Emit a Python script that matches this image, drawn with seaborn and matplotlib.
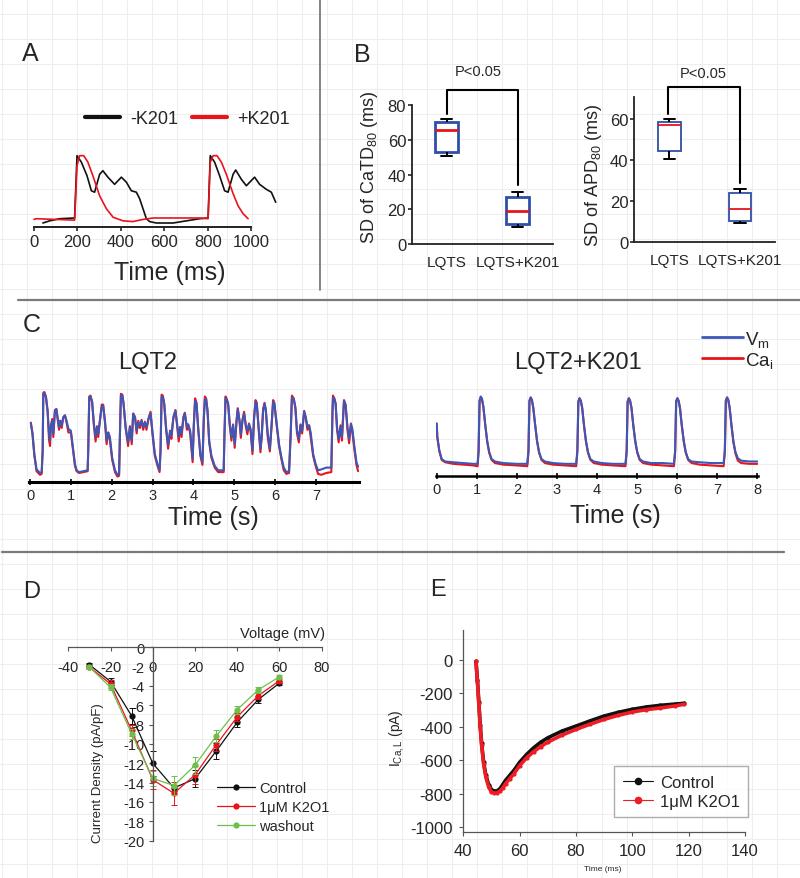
import numpy as np
import pandas as pd
import matplotlib
matplotlib.use("Agg")
import matplotlib.pyplot as plt
from matplotlib.lines import Line2D
import seaborn as sns

# ---------------- data ----------------
# A: action potentials (ms, normalised)
a_ctrl_t = [41, 72, 118, 187, 198, 218, 244, 264, 279, 302, 317, 340, 371, 402, 425, 448, 471, 486,
            517, 532, 563, 640, 701, 762, 801, 811, 831, 854, 877, 893, 916, 928, 954, 977, 1015,
            1038, 1069, 1092, 1112]
a_ctrl_v = [0.06, 0.09, 0.12, 0.13, 1.0, 0.91, 0.72, 0.51, 0.49, 0.74, 0.79, 0.70, 0.60, 0.70, 0.63,
            0.51, 0.49, 0.40, 0.12, 0.08, 0.06, 0.06, 0.09, 0.12, 0.13, 1.0, 0.91, 0.72, 0.51, 0.49,
            0.74, 0.80, 0.67, 0.58, 0.70, 0.60, 0.53, 0.49, 0.35]
a_k201_t = [0, 11, 187, 198, 210, 229, 248, 271, 302, 333, 364, 410, 455, 502, 548, 762, 801, 811,
            824, 842, 862, 885, 916, 939, 962, 985]
a_k201_v = [0.11, 0.12, 0.10, 0.86, 1.0, 1.0, 0.91, 0.72, 0.44, 0.26, 0.14, 0.09, 0.08, 0.11, 0.13,
            0.13, 0.12, 0.91, 1.0, 1.0, 0.91, 0.74, 0.47, 0.30, 0.19, 0.12]

# B: box plot summaries (whisker low, Q1, median, Q3, whisker high)
b_groups = ["LQTS", "LQTS+K201"]
catd_lqts = [50.8, 52.8, 65.8, 70.4, 71.7]
catd_k201 = [10.0, 11.5, 19.2, 27.2, 30.1]
apd_lqts = [40.4, 44.3, 57.2, 58.7, 60.0]
apd_k201 = [9.1, 9.9, 16.0, 23.8, 25.8]
catd_bracket = [74.8, 88.8, 88.8, 34.0]
apd_bracket = [62.5, 75.8, 75.8, 28.5]

# C left: LQT2 optical traces (s, normalised)
lqt2_t = [0.02, 0.06, 0.105, 0.16, 0.245, 0.285, 0.31, 0.325, 0.35, 0.39,
          0.43, 0.465, 0.49, 0.51, 0.545, 0.57, 0.61, 0.645, 0.675, 0.71,
          0.74, 0.775, 0.815, 0.855, 0.895, 0.94, 1.0, 1.06, 1.10, 1.14,
          1.20, 1.30, 1.41, 1.425, 1.45, 1.48, 1.52, 1.565, 1.605, 1.64,
          1.67, 1.71, 1.755, 1.79, 1.835, 1.875, 1.915, 1.955, 2.01, 2.08,
          2.14, 2.18, 2.21, 2.225, 2.26, 2.29, 2.34, 2.40, 2.445, 2.49,
          2.525, 2.57, 2.61, 2.65, 2.69, 2.73, 2.77, 2.81, 2.85, 2.91,
          2.95, 3.0, 3.055, 3.12, 3.17, 3.195, 3.22, 3.25, 3.285, 3.33,
          3.38, 3.43, 3.46, 3.51, 3.56, 3.61, 3.64, 3.675, 3.71, 3.755,
          3.79, 3.84, 3.87, 3.92, 3.98, 4.01, 4.04, 4.075, 4.115, 4.17,
          4.22, 4.255, 4.28, 4.31, 4.345, 4.385, 4.44, 4.52, 4.605, 4.685,
          4.74, 4.76, 4.785, 4.815, 4.85, 4.89, 4.93, 4.97, 5.01, 5.055,
          5.085, 5.13, 5.16, 5.2, 5.24, 5.28, 5.32, 5.36, 5.40, 5.445,
          5.485, 5.52, 5.55, 5.59, 5.64, 5.67, 5.705, 5.74, 5.77, 5.82,
          5.87, 5.91, 5.95, 5.98, 6.03, 6.095, 6.155, 6.21, 6.275, 6.34,
          6.38, 6.41, 6.455, 6.495, 6.535, 6.58, 6.62, 6.66, 6.71, 6.75,
          6.79, 6.83, 6.87, 6.93, 6.99, 7.05, 7.13, 7.25, 7.375, 7.40,
          7.415, 7.45, 7.48, 7.515, 7.555, 7.60, 7.635, 7.685, 7.725, 7.77,
          7.81, 7.855, 7.89, 7.94, 7.99, 8.03]
lqt2_vm = [0.65, 0.54, 0.31, 0.14, 0.10, 0.11, 0.35, 0.98, 0.99, 0.94,
           0.79, 0.54, 0.46, 0.61, 0.68, 0.54, 0.79, 0.81, 0.72, 0.61,
           0.68, 0.63, 0.72, 0.74, 0.68, 0.59, 0.57, 0.35, 0.20, 0.13,
           0.11, 0.12, 0.13, 0.35, 0.94, 0.95, 0.89, 0.64, 0.50, 0.61,
           0.54, 0.68, 0.83, 0.85, 0.68, 0.46, 0.55, 0.50, 0.27, 0.13,
           0.08, 0.09, 0.72, 0.96, 0.96, 0.87, 0.61, 0.44, 0.61, 0.46,
           0.76, 0.72, 0.57, 0.66, 0.63, 0.68, 0.61, 0.66, 0.61, 0.72,
           0.76, 0.54, 0.31, 0.20, 0.13, 0.35, 0.94, 0.95, 0.87, 0.61,
           0.41, 0.57, 0.52, 0.72, 0.79, 0.61, 0.50, 0.61, 0.54, 0.72,
           0.76, 0.61, 0.64, 0.57, 0.26, 0.64, 0.90, 0.87, 0.61, 0.31,
           0.22, 0.72, 0.92, 0.92, 0.79, 0.46, 0.29, 0.18, 0.13, 0.13,
           0.13, 0.54, 0.93, 0.92, 0.87, 0.64, 0.50, 0.63, 0.42, 0.68,
           0.81, 0.68, 0.53, 0.68, 0.76, 0.64, 0.57, 0.64, 0.59, 0.35,
           0.72, 0.89, 0.87, 0.64, 0.37, 0.50, 0.79, 0.87, 0.81, 0.53,
           0.37, 0.61, 0.89, 0.87, 0.68, 0.42, 0.27, 0.16, 0.11, 0.12,
           0.53, 0.94, 0.92, 0.83, 0.57, 0.48, 0.63, 0.57, 0.78, 0.72,
           0.61, 0.63, 0.55, 0.31, 0.20, 0.13, 0.14, 0.16, 0.16, 0.72,
           0.94, 0.92, 0.87, 0.61, 0.48, 0.61, 0.50, 0.90, 0.85, 0.61,
           0.48, 0.64, 0.59, 0.39, 0.22, 0.17]
lqt2_ca = [0.66, 0.54, 0.30, 0.12, 0.08, 0.09, 0.35, 0.99, 1.00, 0.95,
           0.79, 0.47, 0.40, 0.63, 0.70, 0.50, 0.80, 0.81, 0.70, 0.58,
           0.68, 0.60, 0.72, 0.74, 0.66, 0.55, 0.55, 0.33, 0.18, 0.12,
           0.10, 0.11, 0.12, 0.35, 0.95, 0.96, 0.89, 0.62, 0.45, 0.62,
           0.50, 0.68, 0.86, 0.86, 0.66, 0.42, 0.55, 0.47, 0.25, 0.11,
           0.06, 0.07, 0.72, 0.98, 0.97, 0.87, 0.60, 0.40, 0.62, 0.42,
           0.76, 0.72, 0.54, 0.68, 0.60, 0.69, 0.58, 0.67, 0.58, 0.72,
           0.78, 0.52, 0.29, 0.18, 0.11, 0.35, 0.97, 0.96, 0.87, 0.58,
           0.37, 0.57, 0.48, 0.72, 0.80, 0.58, 0.45, 0.61, 0.50, 0.72,
           0.77, 0.58, 0.64, 0.54, 0.22, 0.64, 0.93, 0.88, 0.60, 0.29,
           0.19, 0.72, 0.95, 0.93, 0.79, 0.44, 0.27, 0.16, 0.11, 0.11,
           0.11, 0.54, 0.95, 0.92, 0.86, 0.62, 0.46, 0.64, 0.38, 0.68,
           0.82, 0.66, 0.49, 0.69, 0.78, 0.62, 0.53, 0.65, 0.56, 0.31,
           0.72, 0.91, 0.88, 0.62, 0.33, 0.50, 0.81, 0.88, 0.80, 0.49,
           0.34, 0.61, 0.91, 0.88, 0.66, 0.40, 0.25, 0.13, 0.09, 0.10,
           0.53, 0.96, 0.93, 0.82, 0.54, 0.44, 0.64, 0.54, 0.79, 0.71,
           0.58, 0.63, 0.50, 0.29, 0.18, 0.09, 0.08, 0.10, 0.11, 0.72,
           0.96, 0.93, 0.87, 0.58, 0.44, 0.63, 0.46, 0.91, 0.86, 0.58,
           0.43, 0.65, 0.55, 0.36, 0.19, 0.12]

# C right: LQT2+K201 optical traces
k201_t = [0.0, 0.015, 0.065, 0.125, 0.21, 0.415, 0.665, 0.91, 1.02,
          1.045, 1.07, 1.10, 1.13, 1.165, 1.21, 1.26, 1.31, 1.37, 1.455, 1.66, 2.0, 2.26,
          2.29, 2.315, 2.345, 2.375, 2.41, 2.455, 2.505, 2.555, 2.615, 2.70, 2.90, 3.2, 3.48,
          3.51, 3.535, 3.565, 3.595, 3.63, 3.675, 3.725, 3.775, 3.835, 3.92, 4.12, 4.4, 4.71,
          4.74, 4.765, 4.795, 4.825, 4.86, 4.905, 4.955, 5.005, 5.065, 5.15, 5.35, 5.65, 5.92,
          5.95, 5.975, 6.005, 6.035, 6.07, 6.115, 6.165, 6.215, 6.275, 6.36, 6.56, 6.85, 7.16,
          7.19, 7.215, 7.245, 7.275, 7.31, 7.355, 7.405, 7.455, 7.515, 7.60, 7.80, 8.0]
k201_vm = [0.66, 0.49, 0.32, 0.21, 0.18, 0.17, 0.16, 0.15, 0.15,
           0.32, 0.95, 1.0, 0.97, 0.87, 0.65, 0.44, 0.30, 0.21, 0.18, 0.16, 0.15, 0.15,
           0.32, 0.95, 0.99, 0.96, 0.86, 0.65, 0.44, 0.30, 0.21, 0.18, 0.16, 0.15, 0.15,
           0.32, 0.94, 0.98, 0.95, 0.86, 0.64, 0.44, 0.30, 0.21, 0.18, 0.16, 0.15, 0.15,
           0.32, 0.94, 0.98, 0.95, 0.86, 0.64, 0.44, 0.30, 0.21, 0.18, 0.16, 0.16, 0.15,
           0.32, 0.94, 0.98, 0.95, 0.86, 0.64, 0.44, 0.30, 0.21, 0.18, 0.17, 0.16, 0.16,
           0.32, 0.95, 0.99, 0.96, 0.86, 0.64, 0.43, 0.30, 0.22, 0.19, 0.18, 0.18]
k201_ca = [0.66, 0.49, 0.31, 0.20, 0.17, 0.15, 0.14, 0.13, 0.12,
           0.30, 0.95, 1.0, 0.97, 0.87, 0.65, 0.43, 0.29, 0.20, 0.16, 0.14, 0.13, 0.12,
           0.30, 0.95, 0.99, 0.96, 0.86, 0.65, 0.43, 0.29, 0.20, 0.16, 0.14, 0.13, 0.12,
           0.30, 0.94, 0.98, 0.95, 0.86, 0.64, 0.43, 0.29, 0.20, 0.16, 0.14, 0.13, 0.12,
           0.30, 0.94, 0.98, 0.95, 0.86, 0.64, 0.43, 0.29, 0.20, 0.16, 0.14, 0.13, 0.12,
           0.30, 0.94, 0.98, 0.95, 0.86, 0.64, 0.43, 0.29, 0.20, 0.16, 0.14, 0.13, 0.12,
           0.30, 0.95, 0.99, 0.96, 0.86, 0.64, 0.42, 0.28, 0.19, 0.16, 0.15, 0.15]

# D: I-V relation
d_voltage = [-30, -20, -10, 0, 10, 20, 30, 40, 50, 60]
d_ctrl = [-1.8, -3.55, -7.1, -12.0, -14.55, -13.6, -10.75, -7.75, -5.4, -3.7]
d_ctrl_err = [0.2, 0.4, 0.8, 1.3, 0.3, 0.9, 0.8, 0.5, 0.4, 0.2]
d_k201 = [-2.05, -3.8, -8.6, -13.7, -15.1, -13.2, -10.1, -7.2, -5.0, -3.45]
d_k201_err = [0.2, 0.4, 0.6, 1.0, 1.2, 0.9, 0.6, 0.4, 0.3, 0.2]
d_wash = [-2.05, -4.15, -8.95, -13.55, -14.3, -12.2, -9.2, -6.45, -4.4, -3.05]
d_wash_err = [0.2, 0.3, 0.5, 0.8, 1.0, 0.9, 0.6, 0.4, 0.3, 0.2]

# E: I_CaL traces
e_time = [44.5, 45.0, 45.5, 46.0, 46.5, 47.2, 48.0, 49.0, 50.0, 51.0, 52.0, 53.0, 54.0, 55.0,
          56.5, 58.0, 60.0, 62.5, 65.0, 67.5, 70.0, 75.0, 80.0, 85.0, 90.0, 95.0, 100.0,
          105.0, 110.0, 115.0, 118.5]
e_ctrl = [-10, -120, -250, -390, -500, -610, -690, -745, -775, -785, -783, -770, -745, -720,
          -690, -660, -612, -565, -525, -492, -466, -426, -396, -365, -336, -314, -296,
          -282, -272, -265, -260]
e_k201 = [-10, -125, -260, -400, -510, -620, -700, -760, -790, -796, -794, -785, -765, -740,
          -710, -680, -632, -585, -548, -518, -492, -450, -416, -385, -356, -332, -312,
          -298, -288, -276, -266]

# ---------------- style ----------------
sns.set_style("ticks")
plt.rcParams["font.family"] = ["Liberation Sans", "DejaVu Sans"]
plt.rcParams["mathtext.fontset"] = "custom"
plt.rcParams["mathtext.rm"] = "Liberation Sans"
plt.rcParams["mathtext.it"] = "Liberation Sans:italic"
plt.rcParams["axes.unicode_minus"] = False

RED = "#e8141c"
BLUE = "#3d57b7"
W, H = 800, 879
fig = plt.figure(figsize=(W / 100, H / 100), dpi=100)
fig.patch.set_facecolor("white")


def add_ax(x0, y0, x1, y1):
    ax = fig.add_axes([x0 / W, 1 - y1 / H, (x1 - x0) / W, (y1 - y0) / H])
    ax.set_facecolor("none")
    return ax


def fpos(x, y):
    return x / W, 1 - y / H


# faint graph-paper background and panel separators
bg = fig.add_axes([0, 0, 1, 1], zorder=-10)
bg.set_xlim(0, W)
bg.set_ylim(H, 0)
bg.axis("off")
for gx in np.arange(1.5, W, 25):
    bg.axvline(gx, color="#eeeeee", lw=0.8)
for gy in np.arange(15, H, 25):
    bg.axhline(gy, color="#eeeeee", lw=0.8)
bg.plot([319.5, 319.5], [0, 291], color="#6e6e6e", lw=1.2)
bg.plot([18, 800], [300.5, 300.5], color="#7a7a7a", lw=1.6)
bg.plot([2, 784], [552.7, 552.7], color="#7a7a7a", lw=1.6)

# ---------------- A ----------------
axA = add_ax(31.8, 131.6, 279.6, 228.3)
sns.lineplot(x=a_ctrl_t, y=a_ctrl_v, ax=axA, color="#111111", lw=1.2, label="-K201",
             estimator=None, sort=False)
sns.lineplot(x=a_k201_t, y=a_k201_v, ax=axA, color=RED, lw=1.2, label="+K201",
             estimator=None, sort=False)
axA.set_xlim(-10, 1130)
axA.set_ylim(0, 1.35)
for s in ["top", "right", "left"]:
    axA.spines[s].set_visible(False)
axA.spines["bottom"].set_bounds(0, 1000)
axA.spines["bottom"].set_linewidth(1.4)
axA.spines["bottom"].set_color("#222222")
axA.set_xticks([0, 200, 400, 600, 800, 1000])
axA.set_yticks([])
axA.tick_params(axis="x", direction="out", length=3, width=1.2, labelsize=12, pad=2)
axA.set_xlabel("Time (ms)", fontsize=18, va="center")
axA.xaxis.set_label_coords(*fpos(170, 273), transform=fig.transFigure)
axA.set_ylabel("")
legA = axA.legend(loc="center left", bbox_to_anchor=fpos(85, 120), bbox_transform=fig.transFigure,
                  ncol=2, frameon=False, fontsize=13, handlelength=1.95, handletextpad=0.55,
                  columnspacing=0.75, borderpad=0, borderaxespad=0)
for ln in legA.get_lines():
    ln.set_linewidth(3)

# ---------------- B ----------------
box_kw = dict(width=0.32, color="white", linecolor="black", showfliers=False, order=b_groups,
              whiskerprops=dict(color="black", linewidth=1.4),
              capprops=dict(color="black", linewidth=1.4))


def box_panel(ax, vals_a, vals_b, box_lw):
    df = pd.DataFrame({"group": [b_groups[0]] * len(vals_a) + [b_groups[1]] * len(vals_b),
                       "value": vals_a + vals_b})
    sns.boxplot(data=df, x="group", y="value", ax=ax,
                boxprops=dict(edgecolor="#2f4ea8", linewidth=box_lw),
                medianprops=dict(color=RED, linewidth=box_lw), **box_kw)
    for s in ["top", "right"]:
        ax.spines[s].set_visible(False)
    for s in ["left", "bottom"]:
        ax.spines[s].set_linewidth(1.3)
        ax.spines[s].set_color("#222222")
    ax.tick_params(axis="x", length=0, pad=8, labelsize=11)
    ax.tick_params(axis="y", direction="out", length=3, width=1.2, labelsize=12, pad=1)
    ax.set_xlabel("")


axB1 = add_ax(411.7, 62.6, 553.3, 245)
box_panel(axB1, catd_lqts, catd_k201, 2.0)
axB1.set_xlim(-0.49, 1.5)
axB1.set_ylim(0, 105)
axB1.set_yticks([0, 20, 40, 60, 80])
axB1.spines["left"].set_bounds(0, 80)
axB1.plot([0, 0, 1, 1], catd_bracket, color="black", lw=1.5, clip_on=False)
axB1.text(0.44, 99.8, "P<0.05", ha="center", va="center", fontsize=10.5)
axB1.set_ylabel("SD of CaTD$_{80}$ (ms)", fontsize=13, va="center")
axB1.yaxis.set_label_coords(*fpos(369, 167), transform=fig.transFigure)

axB2 = add_ax(634, 62.7, 775, 242.7)
box_panel(axB2, apd_lqts, apd_k201, 1.3)
axB2.set_xlim(-0.5, 1.495)
axB2.set_ylim(0, 88)
axB2.set_yticks([0, 20, 40, 60])
axB2.spines["left"].set_bounds(0, 70.6)
axB2.plot([-0.02, -0.02, 1, 1], apd_bracket, color="black", lw=1.5, clip_on=False)
axB2.text(0.48, 82.5, "P<0.05", ha="center", va="center", fontsize=10.5)
axB2.set_ylabel("SD of APD$_{80}$ (ms)", fontsize=13, va="center")
axB2.yaxis.set_label_coords(*fpos(593, 175), transform=fig.transFigure)


# ---------------- C ----------------
def trace_panel(ax, t, vm, ca, xticks, spine_lw):
    sns.lineplot(x=t, y=ca, ax=ax, color=RED, lw=1.5, label="Ca$_\\mathrm{i}$",
                 estimator=None, sort=False)
    sns.lineplot(x=t, y=vm, ax=ax, color=BLUE, lw=1.5, label="V$_\\mathrm{m}$",
                 estimator=None, sort=False)
    for s in ["top", "right", "left"]:
        ax.spines[s].set_visible(False)
    ax.spines["bottom"].set_linewidth(spine_lw)
    ax.spines["bottom"].set_color("black")
    ax.set_ylim(0, 1.1)
    ax.set_yticks([])
    ax.set_xticks(xticks)
    ax.tick_params(axis="x", direction="inout", length=5, width=1.4, labelsize=10.5, pad=2)
    ax.set_ylabel("")


axC1 = add_ax(29.2, 384, 358.5, 483)
trace_panel(axC1, lqt2_t, lqt2_vm, lqt2_ca, list(range(8)), 2.2)
axC1.set_xlim(-0.02, 8.04)
axC1.legend_.remove()
axC1.set_xlabel("Time (s)", fontsize=18, va="center")
axC1.xaxis.set_label_coords(*fpos(213, 518), transform=fig.transFigure)

axC2 = add_ax(435.9, 389.8, 758.1, 476.7)
trace_panel(axC2, k201_t, k201_vm, k201_ca, list(range(9)), 1.8)
axC2.set_xlim(-0.02, 8.02)
axC2.set_xlabel("Time (s)", fontsize=18, va="center")
axC2.xaxis.set_label_coords(*fpos(615, 516), transform=fig.transFigure)
hC, lC = axC2.get_legend_handles_labels()
legC = axC2.legend(hC[::-1], lC[::-1], loc="upper left", bbox_to_anchor=fpos(701.7, 330),
                   bbox_transform=fig.transFigure, frameon=False, fontsize=13.5,
                   handlelength=2.2, handletextpad=0.1, labelspacing=0.05,
                   borderpad=0, borderaxespad=0)
for ln in legC.get_lines():
    ln.set_linewidth(2)

fig.text(*fpos(148, 363), "LQT2", fontsize=17, ha="center", va="center")
fig.text(*fpos(578, 363), "LQT2+K201", fontsize=17, ha="center", va="center")

# ---------------- D ----------------
axD = add_ax(66.2, 638.6, 323.8, 846.5)
d_series = [("Control", d_ctrl, d_ctrl_err, "#111111"),
            ("1\u03bcM K2O1", d_k201, d_k201_err, RED),
            ("washout", d_wash, d_wash_err, "#6cc04a")]
for name, vals, err, col in d_series:
    axD.errorbar(d_voltage, vals, yerr=err, fmt="none", ecolor=col, elinewidth=0.7,
                 capsize=2.5, capthick=0.7)
    sns.lineplot(x=d_voltage, y=vals, ax=axD, color=col, lw=0.9, marker="o", markersize=4.5,
                 markeredgewidth=0, label=name, estimator=None, sort=False)
axD.set_xlim(-41, 81)
axD.set_ylim(-20.5, 1.0)
axD.spines["top"].set_visible(False)
axD.spines["right"].set_visible(False)
axD.spines["left"].set_position(("data", 0))
axD.spines["bottom"].set_position(("data", 0))
axD.spines["left"].set_bounds(-20, 0)
axD.spines["bottom"].set_bounds(-40, 80)
for s in ["left", "bottom"]:
    axD.spines[s].set_linewidth(0.9)
    axD.spines[s].set_color("#555555")
axD.set_xticks([-40, -20, 0, 20, 40, 60, 80])
axD.set_yticks(list(range(0, -21, -2)))
axD.tick_params(axis="x", direction="out", length=3, width=0.8, labelsize=10.5, pad=6.5,
                color="#555555")
axD.tick_params(axis="y", direction="out", length=3, width=0.8, labelsize=10.5, pad=3,
                color="#555555")
axD.set_xlabel("Voltage (mV)", fontsize=10.5, va="center")
axD.xaxis.set_label_coords(*fpos(283, 634), transform=fig.transFigure)
axD.set_ylabel("Current Density (pA/pF)", fontsize=9.5, va="center")
axD.yaxis.set_label_coords(*fpos(98, 773), transform=fig.transFigure)
axD.legend(loc="upper left", bbox_to_anchor=fpos(217, 782), bbox_transform=fig.transFigure,
           frameon=False, fontsize=10.5, handlelength=2.6, handletextpad=0.3,
           labelspacing=0.35, borderpad=0, borderaxespad=0)

# ---------------- E ----------------
axE = add_ax(463.3, 631.4, 745, 833.3)
sns.lineplot(x=e_time, y=e_ctrl, ax=axE, color="#111111", lw=2.6, marker="o", markersize=3,
             markeredgewidth=0, estimator=None, sort=False)
sns.lineplot(x=e_time, y=e_k201, ax=axE, color="#ee1c24", lw=2.6, marker="o", markersize=3,
             markeredgewidth=0, estimator=None, sort=False)
axE.set_xlim(40, 140)
axE.set_ylim(-1030, 175)
axE.spines["top"].set_visible(False)
axE.spines["right"].set_visible(False)
for s in ["left", "bottom"]:
    axE.spines[s].set_linewidth(0.9)
    axE.spines[s].set_color("#555555")
axE.set_xticks([40, 60, 80, 100, 120, 140])
axE.set_yticks([-1000, -800, -600, -400, -200, 0])
axE.tick_params(axis="both", direction="out", length=3, width=0.8, labelsize=12, pad=4.5,
                color="#555555")
axE.set_xlabel("Time (ms)", fontsize=6, va="center")
axE.xaxis.set_label_coords(*fpos(603, 870), transform=fig.transFigure)
axE.set_ylabel("I$_{\\mathrm{Ca,L}}$ (pA)", fontsize=10, va="center")
axE.yaxis.set_label_coords(*fpos(396.7, 738), transform=fig.transFigure)
e_handles = [Line2D([0], [0], color="#111111", lw=0.8, marker="o", markersize=4.5),
             Line2D([0], [0], color="#ee1c24", lw=0.8, marker="o", markersize=4.5)]
legE = axE.legend(e_handles, ["Control", "1\u03bcM K2O1"], loc="upper left",
                  bbox_to_anchor=fpos(614.3, 767.3), bbox_transform=fig.transFigure,
                  frameon=True, fancybox=False, fontsize=12, handlelength=1.85,
                  handletextpad=0.4, labelspacing=0.25, borderpad=0.5, borderaxespad=0)
legE.get_frame().set_edgecolor("#999999")
legE.get_frame().set_linewidth(1)

# ---------------- panel letters ----------------
for letter, (lx, ly), size in [("A", (30, 54), 18), ("B", (362, 55), 18), ("C", (32, 325), 18),
                               ("D", (32, 592), 17), ("E", (438, 590), 17)]:
    fig.text(*fpos(lx, ly), letter, fontsize=size, ha="center", va="center")

fig.savefig("out.png", dpi=100)
